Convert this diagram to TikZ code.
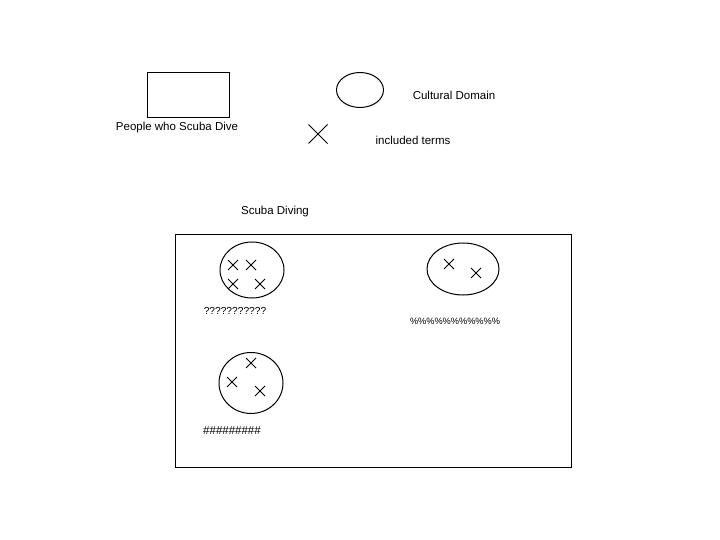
\documentclass[tikz,border=0pt]{standalone}
\usepackage{fontspec}
\setmainfont{Liberation Sans}
\usetikzlibrary{calc}
\begin{document}
\begin{tikzpicture}[x=1pt,y=-1pt,
  lbl/.style={inner sep=0pt,font=\fontsize{11.5}{13}\selectfont},
  sym/.style={inner sep=0pt,font=\fontsize{#1}{13}\selectfont},
  every path/.style={line width=0.8pt}]
\useasboundingbox (0,0) rectangle (720,540);
% legend
\node[draw,line width=0.8pt,minimum width=82pt,minimum height=45pt,inner sep=0pt] (leg) at (188,94.5) {};
\node[lbl] (legt) at (177,128) {People who Scuba Dive};
\draw[line width=1pt] (360,90) ellipse (23.5 and 17.5);
\coordinate (lege) at (360,90);
\node[lbl] (cd) at (454,95) {Cultural Domain};
\coordinate (lx) at (318,134);
\draw[line width=0.9pt] ($(lx)+(-9.5,-9.5)$) -- ($(lx)+(9.5,9.5)$) ($(lx)+(-9.5,9.5)$) -- ($(lx)+(9.5,-9.5)$);
\node[lbl] (it) at (413,140) {included terms};
% main
\node[lbl] (sd) at (275,212) {Scuba Diving};
\node[draw,line width=0.8pt,minimum width=396pt,minimum height=233pt,inner sep=0pt] (box) at (373,350.5) {};
\draw[line width=1pt] (252,270) ellipse (32 and 28);
\draw[line width=1pt] (463,269) ellipse (36 and 26);
\draw[line width=1pt] (251,383) ellipse (32 and 30.5);
\foreach \p in {(233,265),(251,265),(233,284),(260,284),(449,264),(476,273),(251,363),(232,382),(260,391)}{
  \draw[line width=0.9pt] \p ++(-5,-5) -- ++(10,10) \p ++(-5,5) -- ++(10,-10);
}
\node[sym=10.2] (q) at (235,311) {???????????};
\node[sym=9.2] (pc) at (455,321) {\%\%\%\%\%\%\%\%\%\%\%};
\node[sym=11.5] (hs) at (232,431) {\#\#\#\#\#\#\#\#\#};
\end{tikzpicture}
\end{document}
